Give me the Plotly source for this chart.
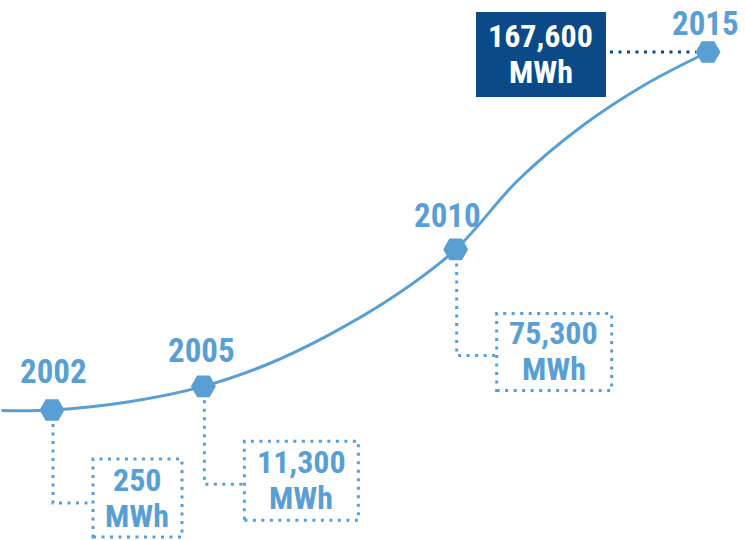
import plotly.graph_objects as go

# ---- data ----
years = [2002, 2005, 2010, 2015]
values_mwh = [250, 11300, 75300, 167600]
value_labels = ["250", "11,300", "75,300", "167,600"]
unit_label = "MWh"
year_labels = ["2002", "2005", "2010", "2015"]
# growth curve as drawn (lead-in before 2002 plus points)
curve_years = [2001, 2002, 2003.5, 2005, 2006.25, 2007.5, 2008.75, 2010,
               2011.25, 2012.5, 2013.75, 2015]
curve_values = [0, 250, 4000, 11300, 21400, 35500, 52900, 75300,
                108000, 132900, 152300, 167600]

LIGHT = "#5a9fd4"
DARK = "#0b4a86"
FONT = "Roboto Condensed, Liberation Sans Narrow, Roboto, sans-serif"
DOT = "3px,5.5px"

fig = go.Figure()
fig.add_trace(go.Scatter(x=curve_years, y=curve_values, mode="lines",
                         line=dict(color=LIGHT, width=3, shape="spline", smoothing=1.0),
                         hoverinfo="skip", showlegend=False))
fig.add_trace(go.Scatter(x=years, y=values_mwh, mode="markers",
                         marker=dict(symbol="hexagon2", size=25, color=LIGHT, line=dict(width=0)),
                         hoverinfo="skip", showlegend=False))

# layout (pixel offsets relative to each milestone marker; y up)
year_off = [(1, 39), (-2, 36), (-8, 34), (-2, 29)]
box = [(41, 130, -127, -49), (41, 155, -134, -55), (41, 156, -141, -64), (-232, -102, -45, 40)]
conn_y = [-93, -98, -106, None]
text_x = [85, 98, 98, -167]
text_cy = [-88, -94, -102, -2]
GAP = 18

shapes = []
annotations = []
for i, (yr, v) in enumerate(zip(years, values_mwh)):
    x0, x1, y0, y1 = box[i]
    filled = i == len(years) - 1
    if filled:
        shapes.append(dict(type="rect", xref="x", yref="y", xsizemode="pixel", ysizemode="pixel",
                           xanchor=yr, yanchor=v, x0=x0, x1=x1, y0=y0, y1=y1,
                           fillcolor=DARK, line=dict(width=0), layer="below"))
        shapes.append(dict(type="line", xref="x", yref="y", xsizemode="pixel", ysizemode="pixel",
                           xanchor=yr, yanchor=v, x0=x1 + 4, x1=-12, y0=0, y1=0,
                           line=dict(color=DARK, width=3, dash=DOT), layer="below"))
    else:
        shapes.append(dict(type="rect", xref="x", yref="y", xsizemode="pixel", ysizemode="pixel",
                           xanchor=yr, yanchor=v, x0=x0, x1=x1, y0=y0, y1=y1,
                           line=dict(color=LIGHT, width=3, dash=DOT), layer="below"))
        cy = conn_y[i]
        shapes.append(dict(type="path", xref="x", yref="y", xsizemode="pixel", ysizemode="pixel",
                           xanchor=yr, yanchor=v,
                           path=f"M 1,-14 L 1,{cy} L {x0},{cy}",
                           line=dict(color=LIGHT, width=3, dash=DOT), layer="below"))
    tcol = "white" if filled else LIGHT
    annotations.append(dict(x=yr, y=v, xref="x", yref="y", text=year_labels[i], showarrow=False,
                            xshift=year_off[i][0], yshift=year_off[i][1],
                            font=dict(family=FONT, size=33, color=LIGHT, weight="bold")))
    annotations.append(dict(x=yr, y=v, xref="x", yref="y", text=value_labels[i], showarrow=False,
                            xshift=text_x[i], yshift=text_cy[i] + GAP, borderpad=0,
                            font=dict(family=FONT, size=32, color=tcol, weight="bold")))
    annotations.append(dict(x=yr, y=v, xref="x", yref="y", text=unit_label, showarrow=False,
                            xshift=text_x[i], yshift=text_cy[i] - GAP, borderpad=0,
                            font=dict(family=FONT, size=32, color=tcol, weight="bold")))

fig.update_layout(
    width=746, height=540, margin=dict(l=0, r=0, t=0, b=0),
    paper_bgcolor="white", plot_bgcolor="white",
    xaxis=dict(visible=False, range=[2000.9695, 2015.7535], fixedrange=True),
    yaxis=dict(visible=False, range=[-60520, 191910], fixedrange=True),
    shapes=shapes, annotations=annotations, hovermode=False,
)
fig.write_html("out.html", config={"displayModeBar": False},
               post_script="document.body.style.margin='0';document.body.style.overflow='hidden';")
